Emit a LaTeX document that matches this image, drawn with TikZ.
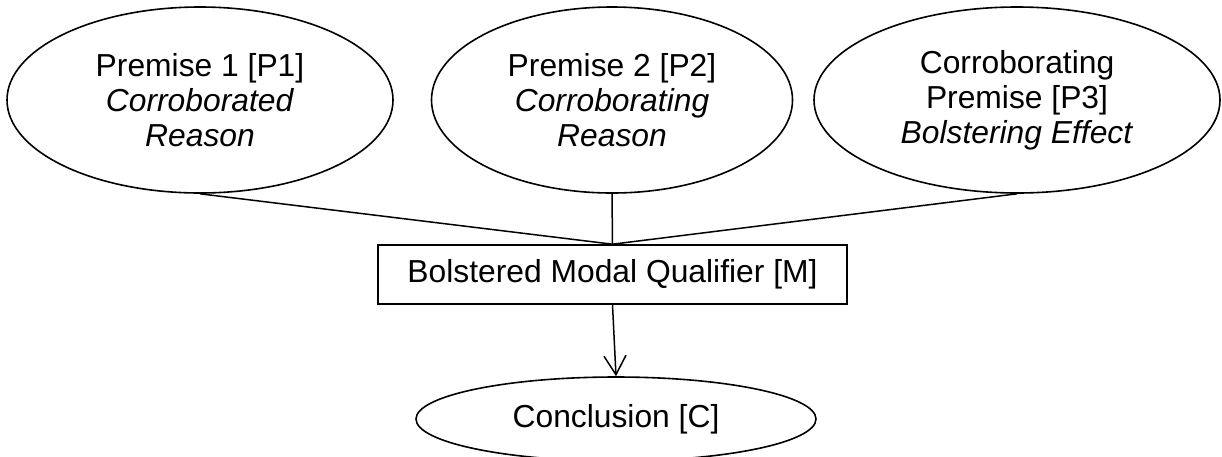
\documentclass[tikz,border=0pt]{standalone}
\usepackage{fontspec}
\setmainfont{Liberation Sans}
\usetikzlibrary{shapes.geometric,arrows.meta}
\tikzset{
  x=1pt, y=-1pt,
  every node/.style={font=\fontsize{31.8}{35}\selectfont, align=center, inner sep=0pt},
  premise/.style={draw, ellipse, line width=1.6pt, minimum height=186pt},
  qualbox/.style={draw, rectangle, line width=1.6pt, minimum width=469pt, minimum height=59pt},
  link/.style={line width=1.5pt},
  infer/.style={line width=1.5pt, -{Straight Barb[length=19pt,width=22pt,line width=1.5pt]}}
}
\begin{document}
\begin{tikzpicture}
  \useasboundingbox (0,0) rectangle (1222,456);
  \node[premise, minimum width=386pt] (p1) at (200,100)
    {Premise 1 [P1]\\ \textit{Corroborated}\\ \textit{Reason}};
  \node[premise, minimum width=361pt] (p2) at (612,100)
    {Premise 2 [P2]\\ \textit{Corroborating}\\ \textit{Reason}};
  \node[premise, minimum width=406pt] (p3) at (1017,100)
    {Corroborating\\ Premise [P3]\\ \textit{Bolstering Effect}};
  \node[qualbox] (m) at (612.5,274.5) {Bolstered Modal Qualifier [M]};
  \node[premise, minimum width=400pt, minimum height=84pt] (c) at (616,419) {Conclusion [C]};
  \draw[link] (p1.south) -- (m.north);
  \draw[link] (p2.south) -- (m.north);
  \draw[link] (p3.south) -- (m.north);
  \draw[infer] (m.south) -- (c.north);
\end{tikzpicture}
\end{document}
